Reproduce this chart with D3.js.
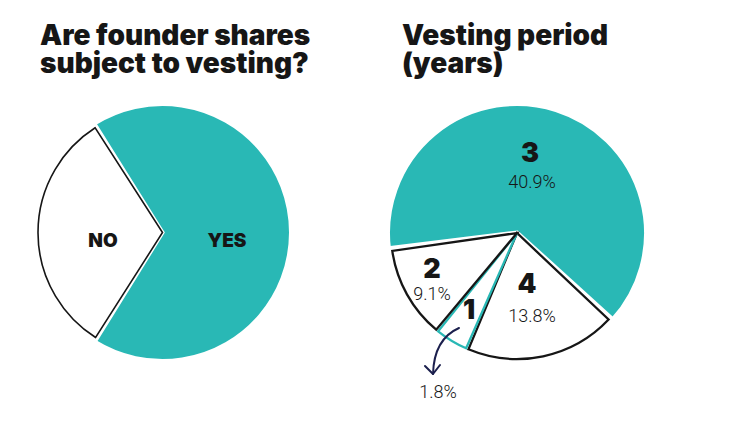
<!DOCTYPE html>
<html><head><meta charset="utf-8">
<script src="https://cdn.jsdelivr.net/npm/d3@7"></script>
<style>body{margin:0;background:#fff}</style>
</head><body>
<svg id="c" width="750" height="422"></svg>
<script>
// ---- data ----
const leftTitle = ["Are founder shares", "subject to vesting?"];
const rightTitle = ["Vesting period", "(years)"];
const vestingCats = ["YES", "NO"];
const vestingVals = [68, 32];                 // share of founders
const periodCats = ["3", "4", "1", "2"];      // vesting period in years (clockwise order)
const periodPct = [40.9, 13.8, 1.8, 9.1];     // printed percentages
const periodSlice = [64.5, 19.5, 4.2, 11.8];  // drawn share of the pie

const TEAL = "#29b8b5", INK = "#161616", NAVY = "#1b1f4d";
const deg = Math.PI / 180;
const svg = d3.select("#c");

// ---- titles ----
function title(lines, x) {
  lines.forEach((l, i) => svg.append("text").attr("x", x).attr("y", 45 + i * 28)
    .attr("font-family", "Inter").attr("font-weight", 900).attr("font-size", 28)
    .attr("fill", INK).text(l));
}
title(leftTitle, 40);
title(rightTitle, 402);

// ---- left pie ----
const g1 = svg.append("g").attr("transform", "translate(162.5,232.5)");
const s1 = -32.4 * deg;
const pie1 = d3.pie().sort(null).startAngle(s1).endAngle(s1 + 2 * Math.PI).padAngle(0.012);
const a1 = pie1(vestingVals);
const arcTeal1 = d3.arc().innerRadius(0).outerRadius(128.5);
const arcWhite1 = d3.arc().innerRadius(0).outerRadius(124.5);
a1.forEach((d, i) => {
  if (i === 0) {
    g1.append("path").attr("d", arcTeal1(d)).attr("fill", TEAL)
      .attr("stroke", "#fff").attr("stroke-width", 4).attr("stroke-linejoin", "miter");
  } else {
    g1.append("path").attr("d", arcWhite1(d)).attr("fill", "#fff")
      .attr("stroke", INK).attr("stroke-width", 1.6).attr("stroke-linejoin", "miter");
  }
});
const lab1 = [[64.5, 14.5], [-59.5, 14.5]];
a1.forEach((d, i) => {
  g1.append("text").attr("x", lab1[i][0]).attr("y", lab1[i][1])
    .attr("text-anchor", "middle").attr("font-family", "Inter").attr("font-weight", 900)
    .attr("font-size", 19).attr("fill", INK).text(vestingCats[i]);
});

// ---- right pie ----
const g2 = svg.append("g").attr("transform", "translate(517,233)");
const s2 = -97.6 * deg;
const pie2 = d3.pie().sort(null).startAngle(s2).endAngle(s2 + 2 * Math.PI).padAngle(0.02);
const a2 = pie2(periodSlice);
const arcTeal2 = d3.arc().innerRadius(0).outerRadius(129.5);
const arcWhite2 = d3.arc().innerRadius(0).outerRadius(126);
a2.forEach((d, i) => {
  if (i === 0) {
    g2.append("path").attr("d", arcTeal2(d)).attr("fill", TEAL)
      .attr("stroke", "#fff").attr("stroke-width", 5).attr("stroke-linejoin", "miter");
  }
});
a2.forEach((d, i) => {
  if (i > 0) {
    g2.append("path").attr("d", arcWhite2(d)).attr("fill", "#fff")
      .attr("stroke", periodCats[i] === "1" ? TEAL : INK).attr("stroke-width", 2.3)
      .attr("stroke-linejoin", "miter");
  }
});

// labels: [number x,y], [pct x,y] relative to the pie centre
const lab2 = {
  "3": [[13, -71], [15, -45]],
  "4": [[10, 60], [15, 89]],
  "2": [[-85, 45], [-85, 67]],
  "1": [[-48, 86], null]
};
const fmt = v => v.toFixed(1) + "%";
periodCats.forEach((c, i) => {
  const L = lab2[c];
  g2.append("text").attr("x", L[0][0]).attr("y", L[0][1]).attr("text-anchor", "middle")
    .attr("font-family", "Inter").attr("font-weight", 900).attr("font-size", 27)
    .attr("fill", INK).text(c);
  if (L[1]) {
    g2.append("text").attr("x", L[1][0]).attr("y", L[1][1]).attr("text-anchor", "middle")
      .attr("font-family", "Roboto").attr("font-weight", 300).attr("font-size", 18)
      .attr("fill", INK).text(fmt(periodPct[i]));
  }
});
// callout for the thin "1 year" slice
const p = d3.path();
p.moveTo(-58, 95);
p.quadraticCurveTo(-83, 106, -84, 141);
g2.append("path").attr("d", p.toString()).attr("fill", "none")
  .attr("stroke", NAVY).attr("stroke-width", 2).attr("stroke-linecap", "round");
const h = d3.path();
h.moveTo(-92, 133); h.lineTo(-84, 141); h.lineTo(-77, 132);
g2.append("path").attr("d", h.toString()).attr("fill", "none")
  .attr("stroke", NAVY).attr("stroke-width", 2).attr("stroke-linecap", "round")
  .attr("stroke-linejoin", "round");
g2.append("text").attr("x", -79).attr("y", 165).attr("text-anchor", "middle")
  .attr("font-family", "Roboto").attr("font-weight", 300).attr("font-size", 18)
  .attr("fill", INK).text(fmt(periodPct[periodCats.indexOf("1")]));
</script>
</body></html>
